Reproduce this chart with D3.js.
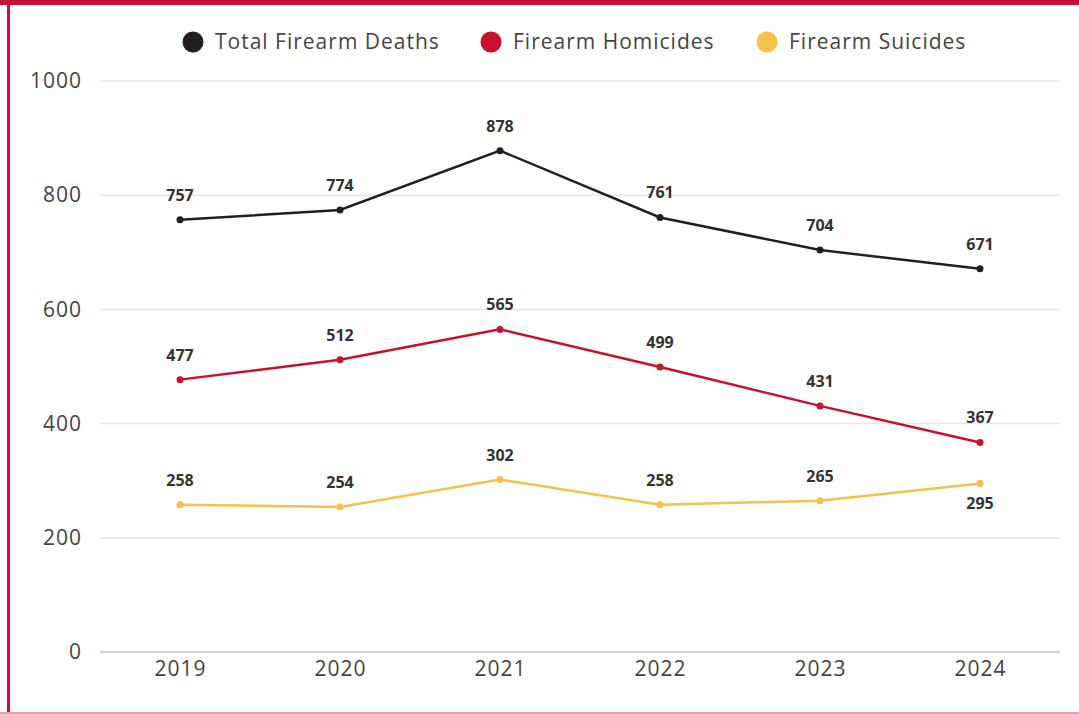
<!DOCTYPE html>
<html>
<head>
<meta charset="utf-8">
<script src="https://cdn.jsdelivr.net/npm/d3@7"></script>
<style>
  body { margin: 0; background: #fff; }
  svg { display: block; }
</style>
</head>
<body>
<svg width="1079" height="714"></svg>
<script>
const years = ['2019', '2020', '2021', '2022', '2023', '2024'];
const totalDeaths = [757, 774, 878, 761, 704, 671];
const homicides = [477, 512, 565, 499, 431, 367];
const suicides = [258, 254, 302, 258, 265, 295];
const yTicks = [0, 200, 400, 600, 800, 1000];

const seriesNames = ['Total Firearm Deaths', 'Firearm Homicides', 'Firearm Suicides'];
const seriesColors = ['#231f20', '#c8102e', '#f4c14a'];

const svg = d3.select('svg');
const width = +svg.attr('width');
const height = +svg.attr('height');

// frame
svg.append('rect').attr('x', 0).attr('y', 0).attr('width', width).attr('height', 5).attr('fill', '#c8103e');
svg.append('rect').attr('x', 7).attr('y', 0).attr('width', 3).attr('height', height).attr('fill', '#c8103e');
svg.append('rect').attr('x', 0).attr('y', 712).attr('width', width).attr('height', 2).attr('fill', '#e8a0b4');

const x = d3.scalePoint().domain(years).range([100, 1060]).padding(0.5);
const y = d3.scaleLinear().domain([0, 1000]).range([652, 81]);

// gridlines
svg.append('g')
  .selectAll('line')
  .data(yTicks)
  .join('line')
  .attr('x1', 100)
  .attr('x2', 1060)
  .attr('y1', d => y(d))
  .attr('y2', d => y(d))
  .attr('stroke', d => d === 0 ? '#cfcfcf' : '#e6e6e6')
  .attr('stroke-width', d => d === 0 ? 2 : 1.5);

// y axis labels
const yAxis = svg.append('g')
  .attr('transform', 'translate(100,0)')
  .call(d3.axisLeft(y).tickValues(yTicks).tickFormat(d3.format('d')).tickSize(0).tickPadding(18));
yAxis.select('.domain').remove();
yAxis.selectAll('text')
  .attr('font-family', 'Open Sans, sans-serif')
  .attr('font-size', 21)
  .attr('letter-spacing', 1)
  .attr('fill', '#444');

// x axis labels
const xAxis = svg.append('g')
  .attr('transform', 'translate(0,652)')
  .call(d3.axisBottom(x).tickSize(0).tickPadding(9));
xAxis.select('.domain').remove();
xAxis.selectAll('text')
  .attr('font-family', 'Open Sans, sans-serif')
  .attr('font-size', 21)
  .attr('letter-spacing', 1)
  .attr('fill', '#444');

const allSeries = [totalDeaths, homicides, suicides];
const line = d3.line().x((d, i) => x(years[i])).y(d => y(d));

allSeries.forEach((vals, s) => {
  const g = svg.append('g');
  g.append('path')
    .attr('d', line(vals))
    .attr('fill', 'none')
    .attr('stroke', seriesColors[s])
    .attr('stroke-width', 2.5);
  g.selectAll('circle')
    .data(vals)
    .join('circle')
    .attr('cx', (d, i) => x(years[i]))
    .attr('cy', d => y(d))
    .attr('r', 3.5)
    .attr('fill', seriesColors[s]);
  g.selectAll('text')
    .data(vals)
    .join('text')
    .attr('x', (d, i) => x(years[i]))
    .attr('y', (d, i) => (s === 2 && i === 5) ? y(d) + 25 : y(d) - 19)
    .attr('text-anchor', 'middle')
    .attr('font-family', 'Open Sans, sans-serif')
    .attr('font-size', 16)
    .attr('font-weight', 'bold')
    .attr('fill', '#333')
    .text(d => d);
});

// legend
const legendX = [193, 491, 767];
const legend = svg.append('g');
seriesNames.forEach((name, i) => {
  legend.append('circle')
    .attr('cx', legendX[i])
    .attr('cy', 42)
    .attr('r', 10.5)
    .attr('fill', seriesColors[i]);
  legend.append('text')
    .attr('x', legendX[i] + 22)
    .attr('y', 49)
    .attr('font-family', 'Open Sans, sans-serif')
    .attr('font-size', 21)
    .attr('letter-spacing', 1)
    .attr('fill', '#444')
    .text(name);
});
</script>
</body>
</html>
